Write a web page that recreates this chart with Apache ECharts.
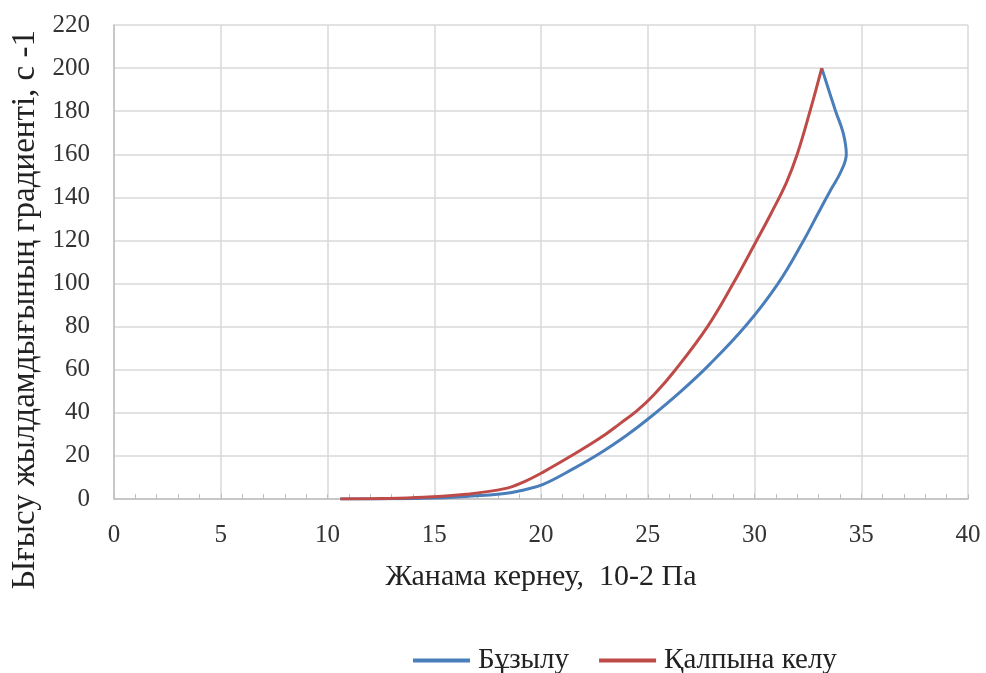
<!DOCTYPE html>
<html>
<head>
<meta charset="utf-8">
<script src="https://cdn.jsdelivr.net/npm/echarts@6/dist/echarts.min.js"></script>
<style>
  html, body { margin: 0; padding: 0; background: #fff; }
  #chart { width: 986px; height: 673px; }
</style>
</head>
<body>
<div id="chart"></div>
<script>
// Shear stress (x) vs shear rate gradient (y): breakdown and recovery curves
const seriesNames = ['Бұзылу', 'Қалпына келу'];

const breakdownX = [10.6, 12.5, 14.5, 16.5, 18.3, 19.2, 20.1, 21.5, 22.8, 24.0, 25.0, 26.5, 27.9, 29.6, 31.1, 32.3, 33.0, 33.6, 34.05, 34.3, 34.15, 33.8, 33.15];
const breakdownY = [0, 0.05, 0.3, 1.2, 2.6, 4.2, 6.8, 14, 21.5, 29.5, 37, 49.5, 62.5, 80.5, 100, 120, 133, 144, 152, 160, 170, 180, 200];

const recoveryX = [10.6, 12.5, 14.5, 16.5, 18.3, 19.2, 20.1, 21.5, 22.8, 23.7, 24.5, 25.3, 26.3, 27.8, 29.0, 30.1, 30.8, 31.5, 32.0, 32.6, 33.15];
const recoveryY = [0, 0.2, 0.8, 2.2, 4.8, 8, 12.5, 20.5, 28.5, 35, 41, 48.5, 60, 80, 100, 120, 133, 147, 160, 180, 200];

const xTicks = [0, 5, 10, 15, 20, 25, 30, 35, 40];
const yTicks = [0, 20, 40, 60, 80, 100, 120, 140, 160, 180, 200, 220];

const xTitle = 'Жанама кернеу,  10-2 Па';
const yTitle = 'Ығысу жылдамдығының градиенті, с -1';

const pairs = (xs, ys) => xs.map((x, i) => [x, ys[i]]);

const serif = '"Liberation Serif", "DejaVu Serif", serif';
const gridColor = '#d9d9d9';
const blue = '#4a7ebb';
const red = '#be4b48';

const chart = echarts.init(document.getElementById('chart'), null, { renderer: 'canvas' });
chart.setOption({
  animation: false,
  backgroundColor: '#fff',
  grid: { left: 114, right: 18, top: 25, bottom: 174, containLabel: false },
  xAxis: {
    type: 'value',
    min: xTicks[0],
    max: xTicks[xTicks.length - 1],
    interval: xTicks[1] - xTicks[0],
    name: xTitle,
    nameLocation: 'middle',
    nameGap: 63,
    nameTextStyle: { fontFamily: serif, fontSize: 30, color: '#222' },
    axisLine: { show: true, lineStyle: { color: '#bfbfbf', width: 1.5 } },
    axisTick: { show: true, inside: true, length: 5, lineStyle: { color: '#bfbfbf' } },
    minorTick: { show: true, splitNumber: 5, length: 5, lineStyle: { color: '#bfbfbf' } },
    axisLabel: { margin: 24, fontFamily: serif, fontSize: 25, color: '#333' },
    splitLine: { show: true, lineStyle: { color: gridColor, width: 1.5 } }
  },
  yAxis: {
    type: 'value',
    min: yTicks[0],
    max: yTicks[yTicks.length - 1],
    interval: yTicks[1] - yTicks[0],
    axisLine: { show: true, lineStyle: { color: '#bfbfbf', width: 1.5 } },
    axisTick: { show: false },
    axisLabel: { margin: 24, fontFamily: serif, fontSize: 25, color: '#333' },
    splitLine: { show: true, lineStyle: { color: gridColor, width: 1.5 } }
  },
  legend: {
    top: 641,
    left: 408,
    icon: 'rect',
    itemWidth: 57,
    itemHeight: 4,
    itemGap: 30,
    textStyle: { fontFamily: serif, fontSize: 29, color: '#222', padding: [0, 0, 0, 3] },
    data: seriesNames
  },
  graphic: [{
    type: 'text',
    left: 9,
    top: 30,
    rotation: Math.PI / 2,
    style: {
      text: yTitle,
      font: '33px ' + serif,
      fill: '#222'
    }
  }],
  series: [
    {
      name: seriesNames[0],
      type: 'line',
      data: pairs(breakdownX, breakdownY),
      smooth: 0.4,
      symbol: 'none',
      lineStyle: { color: blue, width: 3 },
      itemStyle: { color: blue },
      z: 2
    },
    {
      name: seriesNames[1],
      type: 'line',
      data: pairs(recoveryX, recoveryY),
      smooth: 0.4,
      symbol: 'none',
      lineStyle: { color: red, width: 3 },
      itemStyle: { color: red },
      z: 3
    }
  ]
});
</script>
</body>
</html>
